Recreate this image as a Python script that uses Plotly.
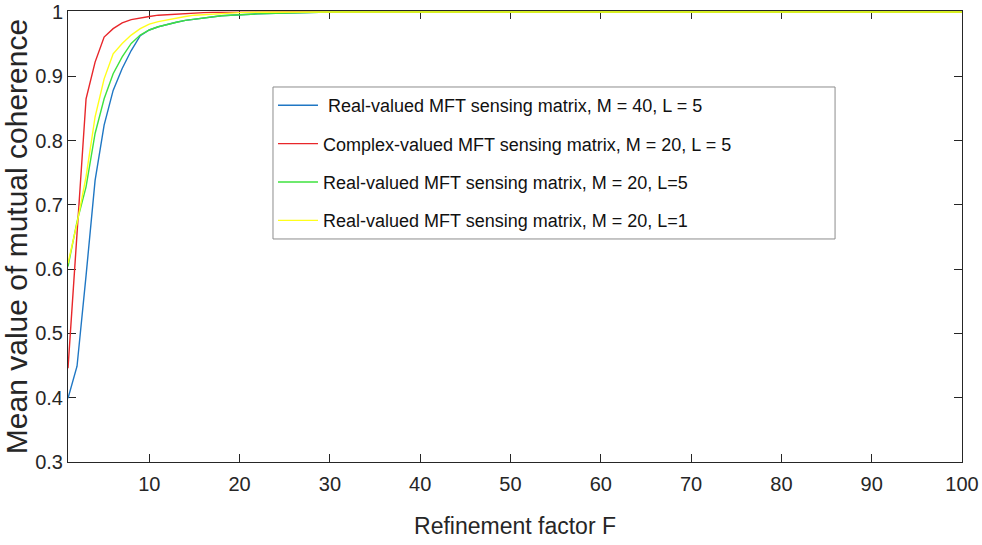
import plotly.graph_objects as go

# Refinement factor F at which the mean mutual coherence was evaluated
F = [1, 2, 3, 4, 5, 6, 7, 8, 9, 10, 11, 12, 13, 14, 15, 16, 17, 18, 19, 20,
     22, 24, 26, 28, 30, 40, 50, 60, 70, 80, 90, 100]

real_m40_l5 = [0.399, 0.449, 0.590, 0.738, 0.824, 0.878, 0.912, 0.940, 0.963, 0.972,
               0.977, 0.981, 0.984, 0.987, 0.989, 0.991, 0.992, 0.994, 0.995, 0.996,
               0.997, 0.998, 0.999, 0.9995, 1.0, 1.0, 1.0, 1.0, 1.0, 1.0, 1.0, 1.0]
complex_m20_l5 = [0.446, 0.656, 0.865, 0.922, 0.961, 0.974, 0.983, 0.988, 0.991, 0.993,
                  0.995, 0.996, 0.997, 0.998, 0.9985, 0.999, 0.9993, 0.9995, 0.9997, 0.9998,
                  1.0, 1.0, 1.0, 1.0, 1.0, 1.0, 1.0, 1.0, 1.0, 1.0, 1.0, 1.0]
real_m20_l5 = [0.604, 0.674, 0.728, 0.811, 0.865, 0.904, 0.930, 0.951, 0.964, 0.972,
               0.977, 0.981, 0.984, 0.987, 0.989, 0.991, 0.992, 0.994, 0.995, 0.996,
               0.997, 0.998, 0.999, 0.9995, 1.0, 1.0, 1.0, 1.0, 1.0, 1.0, 1.0, 1.0]
real_m20_l1 = [0.609, 0.671, 0.744, 0.837, 0.896, 0.935, 0.951, 0.964, 0.974, 0.981,
               0.985, 0.988, 0.991, 0.993, 0.995, 0.996, 0.997, 0.998, 0.9985, 0.999,
               0.9995, 0.9998, 1.0, 1.0, 1.0, 1.0, 1.0, 1.0, 1.0, 1.0, 1.0, 1.0]

series = [
    (" Real-valued MFT sensing matrix, M = 40, L = 5", real_m40_l5, "#1f77c4"),
    ("Complex-valued MFT sensing matrix, M = 20, L = 5", complex_m20_l5, "#e8262a"),
    ("Real-valued MFT sensing matrix, M = 20, L=5", real_m20_l5, "#3ee23e"),
    ("Real-valued MFT sensing matrix, M = 20, L=1", real_m20_l1, "#ffff1a"),
]

x_ticks = [10, 20, 30, 40, 50, 60, 70, 80, 90, 100]
y_ticks = [0.3, 0.4, 0.5, 0.6, 0.7, 0.8, 0.9, 1.0]
y_tick_text = ["0.3", "0.4", "0.5", "0.6", "0.7", "0.8", "0.9", "1"]

FONT = "Liberation Sans, Arial, sans-serif"
INK = "#262626"

fig = go.Figure()
for i, (name, vals, color) in enumerate(series):
    fig.add_trace(go.Scatter(x=F, y=vals, mode="lines", name=name,
                             legendgroup=f"g{i}",
                             line=dict(color=color, width=1.4)))

axis_common = dict(showgrid=False, zeroline=False, showline=True, linecolor=INK,
                   linewidth=1, mirror="ticks", ticks="inside", ticklen=8,
                   tickcolor=INK, automargin=False, ticklabeloverflow="allow",
                   layer="below traces",
                   tickfont=dict(family=FONT, size=20, color=INK))

fig.update_xaxes(range=[1, 100], tickvals=x_ticks, ticklabelstandoff=4,
                 title=dict(text="Refinement factor F", standoff=23,
                            font=dict(family=FONT, size=23, color=INK)),
                 **axis_common)
fig.update_yaxes(range=[0.3, 1.0015], tickvals=y_ticks, ticktext=y_tick_text,
                 title=dict(text="Mean value of mutual coherence", standoff=3,
                            font=dict(family=FONT, size=30, color=INK)),
                 **axis_common)

# Legend frame, drawn as a box wider than the legend text
fig.add_shape(type="rect", xref="paper", yref="paper",
              x0=0.2293, x1=0.858, y0=0.4945, y1=0.8315,
              line=dict(color="#8c8c8c", width=1), fillcolor="white", layer="above")

fig.update_layout(
    width=982, height=545,
    margin=dict(l=68, r=20, t=11, b=83),
    paper_bgcolor="white", plot_bgcolor="white",
    showlegend=True,
    legend=dict(x=0.2293, y=0.8315, xanchor="left", yanchor="top",
                bgcolor="rgba(0,0,0,0)", borderwidth=0,
                font=dict(family=FONT, size=18, color="#111111"),
                tracegroupgap=12, itemwidth=40),
)

fig.write_html("out.html")
